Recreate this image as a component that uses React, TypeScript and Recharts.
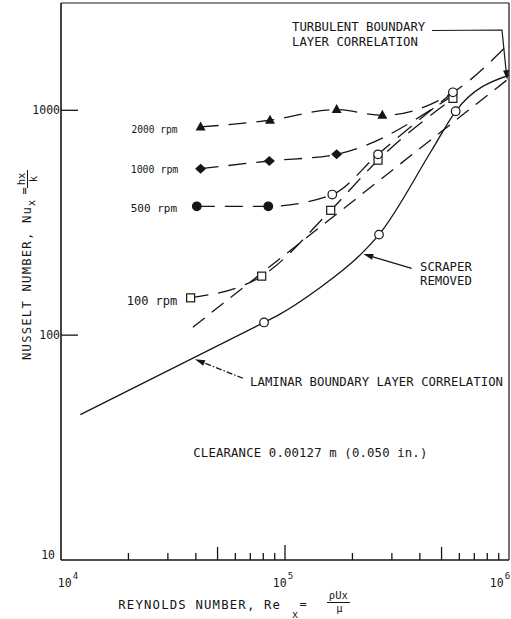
import React from "react";
import {
  ComposedChart,
  Line,
  Scatter,
  XAxis,
  YAxis,
  ReferenceLine,
} from "recharts";

// Reynolds number (re) against Nusselt number (nu)
const rpm2000 = [
  { re: 42000, nu: 843 },
  { re: 85700, nu: 903 },
  { re: 170000, nu: 1007 },
  { re: 272000, nu: 950 },
];
const rpm2000Tail = [
  { re: 562000, nu: 1200 },
  { re: 1000000, nu: 1980 },
];

const rpm1000 = [
  { re: 42000, nu: 550 },
  { re: 85100, nu: 595 },
  { re: 170000, nu: 637 },
];
const rpm1000Tail = [{ re: 562000, nu: 1165 }];

const rpm500 = [
  { re: 40400, nu: 374 },
  { re: 84200, nu: 374 },
  { re: 162600, nu: 422 },
  { re: 260200, nu: 637 },
  { re: 562000, nu: 1202 },
];

const rpm100 = [
  { re: 37900, nu: 146.5 },
  { re: 78700, nu: 183 },
  { re: 160000, nu: 359 },
  { re: 260200, nu: 600 },
  { re: 562000, nu: 1130 },
];

const scraperRemoved = [
  { re: 80600, nu: 113.9 },
  { re: 262800, nu: 280 },
  { re: 578000, nu: 990 },
];
const scraperCurve = [
  { re: 80600, nu: 113.9 },
  { re: 95000, nu: 124 },
  { re: 140000, nu: 160 },
  { re: 220000, nu: 231 },
  { re: 262800, nu: 280 },
  { re: 451800, nu: 664 },
  { re: 578000, nu: 990 },
  { re: 1000000, nu: 1432 },
];

const laminar = [
  { re: 12200, nu: 44.3 },
  { re: 80600, nu: 113.9 },
];

const turbulent = [
  { re: 38800, nu: 108.5 },
  { re: 1000000, nu: 1387 },
];

const xTicks = [
  1e4, 2e4, 3e4, 4e4, 5e4, 6e4, 7e4, 8e4, 9e4,
  1e5, 2e5, 3e5, 4e5, 5e5, 6e5, 7e5, 8e5, 9e5, 1e6,
];
const yTicks = [10, 100, 1000];

const W = 511;
const H = 619;
const ink = "#161616";
const font = "'DejaVu Sans Mono', monospace";

function XTick(props: any) {
  const { x, y, payload } = props;
  const v = payload.value;
  const exp = Math.floor(Math.log10(v) + 1e-9);
  const mant = Math.round(v / Math.pow(10, exp));
  const len = mant === 1 ? 15 : mant === 5 ? 13 : 7;
  const showLine = !(mant === 1 && (exp === 4 || exp === 6));
  // decade labels sit slightly off-centre at the two corners
  const shift = exp === 4 ? 7 : exp === 6 ? -9 : -2;
  return (
    <g>
      {showLine && (
        <line x1={x} y1={y} x2={x} y2={y - len} stroke={ink} strokeWidth={1.3} />
      )}
      {mant === 1 && (
        <text
          x={x + shift}
          y={y + 27}
          textAnchor="middle"
          fontFamily={font}
          fontSize={11.5}
          fill={ink}
        >
          10
          <tspan dy={-8} dx={1} fontSize={9}>
            {exp}
          </tspan>
        </text>
      )}
    </g>
  );
}

function YTick(props: any) {
  const { x, y, payload } = props;
  const v = payload.value;
  const isBase = v === 10;
  return (
    <g>
      {!isBase && (
        <line x1={x} y1={y} x2={x + 17} y2={y} stroke={ink} strokeWidth={1.3} />
      )}
      <text
        x={isBase ? x - 6 : x - 1}
        y={isBase ? y - 1 : y + 4}
        textAnchor="end"
        fontFamily={font}
        fontSize={11.5}
        fill={ink}
      >
        {v}
      </text>
    </g>
  );
}

function FilledTriangle(p: any) {
  const { cx, cy } = p;
  return (
    <polygon
      points={`${cx},${cy - 5.5} ${cx - 5},${cy + 3.5} ${cx + 5},${cy + 3.5}`}
      fill={ink}
    />
  );
}

function FilledDiamond(p: any) {
  const { cx, cy } = p;
  return (
    <polygon
      points={`${cx},${cy - 5} ${cx + 5.5},${cy} ${cx},${cy + 5} ${cx - 5.5},${cy}`}
      fill={ink}
    />
  );
}

function Circle500(p: any) {
  const { cx, cy, payload } = p;
  const i = rpm500.findIndex((d) => d.re === payload.re);
  const solid = i < 2;
  return (
    <circle
      cx={cx}
      cy={cy}
      r={4.3}
      fill={solid ? ink : "#fff"}
      stroke={ink}
      strokeWidth={1.2}
    />
  );
}

function OpenCircle(p: any) {
  const { cx, cy } = p;
  return <circle cx={cx} cy={cy} r={4.3} fill="#fff" stroke={ink} strokeWidth={1.2} />;
}

function OpenSquare(p: any) {
  const { cx, cy } = p;
  return (
    <rect
      x={cx - 4}
      y={cy - 4}
      width={8}
      height={8}
      fill="#fff"
      stroke={ink}
      strokeWidth={1.2}
    />
  );
}

function Arrow({ from, to, dash }: { from: number[]; to: number[]; dash?: string }) {
  const [x1, y1] = from;
  const [x2, y2] = to;
  const a = Math.atan2(y2 - y1, x2 - x1);
  const L = 10;
  const hw = 3;
  const bx = x2 - L * Math.cos(a);
  const by = y2 - L * Math.sin(a);
  const px = -Math.sin(a) * hw;
  const py = Math.cos(a) * hw;
  return (
    <g>
      <line
        x1={x1}
        y1={y1}
        x2={bx}
        y2={by}
        stroke={ink}
        strokeWidth={1.2}
        strokeDasharray={dash}
      />
      <polygon
        points={`${x2},${y2} ${bx + px},${by + py} ${bx - px},${by - py}`}
        fill={ink}
      />
    </g>
  );
}

const txt = { fontFamily: font, fill: ink } as const;

function Annotations() {
  return (
    <svg
      width={W}
      height={H}
      style={{ position: "absolute", left: 0, top: 0, pointerEvents: "none" }}
    >
      {/* turbulent correlation callout */}
      <text x={292} y={30.5} fontSize={12.3} {...txt}>
        TURBULENT BOUNDARY
      </text>
      <text x={292} y={46} fontSize={12.3} {...txt}>
        LAYER CORRELATION
      </text>
      <polyline
        points="432,30.5 502,30 505.6,66"
        fill="none"
        stroke={ink}
        strokeWidth={1.2}
      />
      <Arrow from={[505.6, 66]} to={[507.3, 80]} />

      {/* scraper removed callout */}
      <text x={420} y={270.5} fontSize={12.3} {...txt}>
        SCRAPER
      </text>
      <text x={420} y={285} fontSize={12.3} {...txt}>
        REMOVED
      </text>
      <Arrow from={[411.7, 268.3]} to={[363.3, 254]} />

      {/* laminar correlation callout */}
      <text x={250} y={386} fontSize={12.3} textLength={253} {...txt}>
        LAMINAR BOUNDARY LAYER CORRELATION
      </text>
      <Arrow from={[243, 378.3]} to={[195, 359.3]} dash="6 2 1.5 2" />

      <text x={193.3} y={457} fontSize={12.3} textLength={234} {...txt}>
        CLEARANCE 0.00127 m (0.050 in.)
      </text>

      {/* series labels */}
      <text x={131.5} y={133} fontSize={11} textLength={46} lengthAdjust="spacingAndGlyphs" {...txt}>
        2000 rpm
      </text>
      <text x={130.7} y={173} fontSize={11} textLength={47.6} lengthAdjust="spacingAndGlyphs" {...txt}>
        1000 rpm
      </text>
      <text x={130.7} y={211.5} fontSize={11} {...txt}>
        500 rpm
      </text>
      <text x={126.7} y={305} fontSize={12} {...txt}>
        100 rpm
      </text>

      {/* x axis title */}
      <text x={118.3} y={609} fontSize={12.3} textLength={161.7} {...txt}>
        REYNOLDS NUMBER, Re
      </text>
      <text x={292} y={617.5} fontSize={10} {...txt}>
        x
      </text>
      <text x={303} y={608} fontSize={12} textAnchor="middle" {...txt}>
        =
      </text>
      <text x={338.3} y={599} fontSize={10.5} textAnchor="middle" {...txt}>
        ρUx
      </text>
      <line x1={327} y1={602.5} x2={350} y2={602.5} stroke={ink} strokeWidth={1} />
      <text x={339.5} y={612} fontSize={10.5} textAnchor="middle" {...txt}>
        μ
      </text>

      {/* y axis title, rotated */}
      <g transform="translate(31,0) rotate(-90)">
        <text x={-360} y={0} fontSize={12.3} textLength={153} {...txt}>
          NUSSELT NUMBER, Nu
        </text>
        <text x={-206} y={3.5} fontSize={10} {...txt}>
          x
        </text>
        <text x={-191} y={-3} fontSize={12} textAnchor="middle" {...txt}>
          =
        </text>
        <text x={-179} y={-6} fontSize={10.5} textAnchor="middle" {...txt}>
          hx
        </text>
        <line x1={-188} y1={-3.5} x2={-170} y2={-3.5} stroke={ink} strokeWidth={1} />
        <text x={-179} y={5.5} fontSize={10.5} textAnchor="middle" {...txt}>
          k
        </text>
      </g>
    </svg>
  );
}

export default function App() {
  const dashed = { stroke: ink, strokeWidth: 1.3, strokeDasharray: "18 10", dot: false, isAnimationActive: false };
  return (
    <div
      style={{
        position: "absolute",
        left: 0,
        top: 0,
        width: W,
        height: H,
        background: "#fff",
      }}
    >
      <ComposedChart
        width={W}
        height={H}
        margin={{ top: 3, right: 2, bottom: 0, left: 0 }}
      >
        <XAxis
          dataKey="re"
          type="number"
          scale="log"
          domain={[1e4, 1e6]}
          allowDataOverflow
          ticks={xTicks}
          interval={0}
          height={59}
          tickSize={0}
          tickMargin={0}
          tickLine={false}
          axisLine={{ stroke: ink, strokeWidth: 1.6 }}
          tick={(p: any) => <XTick {...p} />}
        />
        <YAxis
          dataKey="nu"
          type="number"
          scale="log"
          domain={[10, 3000]}
          allowDataOverflow
          ticks={yTicks}
          interval={0}
          width={61}
          tickSize={0}
          tickMargin={0}
          tickLine={false}
          axisLine={{ stroke: ink, strokeWidth: 1.6 }}
          tick={(p: any) => <YTick {...p} />}
        />
        <ReferenceLine y={3000} stroke={ink} strokeWidth={1.2} />
        <ReferenceLine x={1e6} stroke={ink} strokeWidth={1.2} />

        <Line data={laminar} dataKey="nu" type="linear" stroke={ink} strokeWidth={1.3} dot={false} isAnimationActive={false} />
        <Line data={scraperCurve} dataKey="nu" type="monotone" stroke={ink} strokeWidth={1.3} dot={false} isAnimationActive={false} />
        <Line data={turbulent} dataKey="nu" type="linear" stroke={ink} strokeWidth={1.3} strokeDasharray="15 9" dot={false} isAnimationActive={false} />
        <Line data={[...rpm2000, ...rpm2000Tail]} dataKey="nu" type="monotone" {...dashed} />
        <Line data={[...rpm1000, ...rpm1000Tail]} dataKey="nu" type="monotone" {...dashed} />
        <Line data={rpm500} dataKey="nu" type="monotone" {...dashed} />
        <Line data={rpm100} dataKey="nu" type="monotone" {...dashed} />

        <Scatter data={scraperRemoved} dataKey="nu" shape={(p: any) => <OpenCircle {...p} />} isAnimationActive={false} />
        <Scatter data={rpm100} dataKey="nu" shape={(p: any) => <OpenSquare {...p} />} isAnimationActive={false} />
        <Scatter data={rpm500} dataKey="nu" shape={(p: any) => <Circle500 {...p} />} isAnimationActive={false} />
        <Scatter data={rpm1000} dataKey="nu" shape={(p: any) => <FilledDiamond {...p} />} isAnimationActive={false} />
        <Scatter data={rpm2000} dataKey="nu" shape={(p: any) => <FilledTriangle {...p} />} isAnimationActive={false} />
      </ComposedChart>
      <Annotations />
    </div>
  );
}
